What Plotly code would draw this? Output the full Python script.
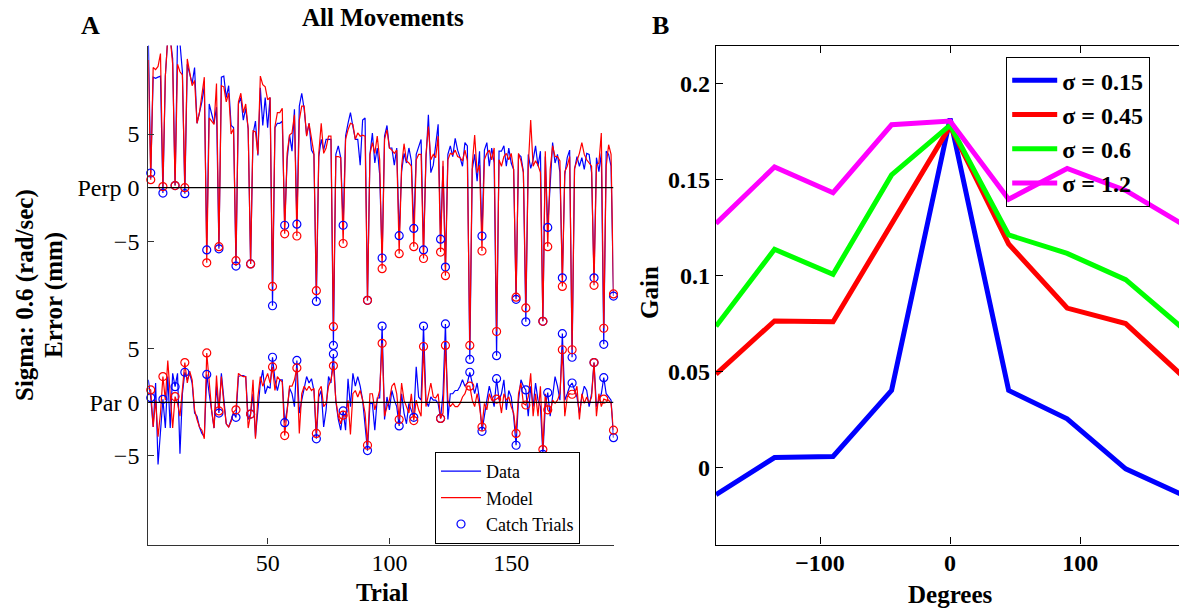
import plotly.graph_objects as go

# ---------------- Panel A data ----------------
trials = list(range(1, 193))
catch_trials = [2, 7, 12, 16, 25, 30, 37, 43, 52, 57, 62, 70, 77, 81, 91, 97,
                104, 110, 114, 121, 123, 133, 138, 144, 152, 156, 163, 165,
                171, 175, 184, 188, 192]
perp_offset = 20

perp_data = [
    14.0, 1.37, 10.3, 10.2, 10.3, 10.4, -0.5, 10.4, 14.0, 14.0, 12.0, 0.2,
    14.0, 13.5, 10.8, -0.56, 11.5, 10.5, 9.7, 11.2, 6.0, 7.0, 8.0, 9.5,
    -5.8, 7.8, 6.8, 6.0, 7.5, -5.7, 10.3, 10.4, 8.4, 9.5, 5.8, 5.6,
    -7.3, 7.8, 8.4, 6.3, 7.4, 5.5, -7.1, 5.0, 6.2, 3.0, 9.3, 5.8,
    8.4, 5.6, 8.4, -11.0, 5.6, 6.0, 6.0, 6.2, -3.5, 2.6, 4.9, 3.4,
    7.3, -3.4, 7.6, 8.8, 7.3, 4.9, 6.0, 3.5, 3.1, -10.6, 2.9, 4.5,
    3.5, 4.5, 4.5, 4.5, -14.7, 3.1, 3.9, 2.8, -3.5, 4.8, 6.0, 7.0,
    5.7, 4.5, 4.5, 2.1, 6.3, 6.5, -10.5, 3.1, 5.1, 2.3, 3.7, 1.2,
    -6.55, 4.8, 5.8, 3.7, 3.7, 2.1, 3.7, -4.47, 1.5, 3.2, 2.3, 3.7,
    2.5, -3.8, 3.1, 3.9, 4.5, -5.8, 2.6, 6.8, 1.4, 2.1, 4.2, 5.9,
    -4.8, 2.0, -7.4, 3.1, 3.9, 2.9, 4.6, 3.5, 2.8, 2.0, 4.2, 3.9,
    -16.0, 1.7, 3.1, 0.6, 3.4, -4.5, 3.5, 4.2, 2.0, 3.7, 2.3, -15.65,
    3.4, 3.4, 3.9, 2.0, 3.7, 2.3, 1.7, -10.4, 3.1, 2.9, 1.5, -12.5,
    3.1, 1.8, 2.6, 3.9, 2.0, 3.4, -12.45, 2.9, -3.7, 0.6, 4.2, 2.3,
    3.1, 1.4, -8.4, 1.2, 2.8, 3.5, -15.8, 1.7, 2.9, 2.0, 2.8, 1.7,
    3.2, 3.1, 1.4, -8.4, 2.8, 1.5, 3.2, -14.6, 3.4, 3.1, 2.0, -10.1,
]
perp_model = [
    11.9, 0.75, 11.2, 11.0, 11.3, 12.5, 0.1, 10.4, 14.0, 14.0, 11.5, 0.2,
    11.5, 10.8, 10.5, 0.0, 12.0, 10.9, 9.5, 10.0, 6.0, 7.0, 8.5, 10.3,
    -7.0, 6.5, 6.2, 5.9, 9.7, -5.5, 9.5, 9.4, 8.0, 8.8, 5.0, 5.5,
    -6.8, 8.0, 8.8, 7.0, 7.8, 5.5, -7.1, 5.3, 5.2, 3.1, 10.4, 9.6,
    9.4, 8.2, 8.4, -9.2, 5.7, 7.0, 7.0, 7.4, -4.3, 3.2, 4.9, 5.1,
    6.8, -4.5, 6.3, 7.6, 7.6, 4.8, 6.0, 4.5, 3.2, -9.6, 3.2, 6.0,
    3.2, 3.7, 4.8, 4.8, -12.95, 2.9, 2.9, 2.8, -5.2, 4.5, 5.4, 6.0,
    5.9, 4.5, 5.1, 4.8, 4.9, 4.8, -10.5, 3.1, 4.2, 3.2, 4.8, 2.6,
    -7.55, 4.5, 5.4, 3.7, 3.5, 3.2, 3.5, -6.15, 2.0, 4.1, 2.5, 2.3,
    2.0, -5.5, 2.6, 3.1, 3.1, -6.6, 3.1, 5.7, 2.6, 3.1, 2.8, 4.8,
    -6.0, 2.5, -8.2, 2.6, 3.2, 3.1, 3.5, 2.9, 2.8, 2.5, 3.5, 2.5,
    -14.7, 2.1, 4.9, 1.4, 2.1, -5.9, 2.6, 3.2, 3.5, 2.6, 3.7, -13.4,
    2.6, 2.0, 2.9, 3.2, 2.6, 3.2, 1.7, -10.2, 3.2, 2.5, 1.4, -11.2,
    2.0, 6.3, 2.0, 2.5, 2.1, 1.4, -12.45, 3.4, -5.5, 1.7, 3.9, 2.9,
    2.9, 2.5, -9.2, 1.5, 2.0, 2.9, -15.1, 1.8, 2.5, 3.2, 4.2, 3.1,
    2.6, 2.3, 2.0, -9.1, 2.1, 2.3, 5.1, -13.1, 2.0, 4.0, 3.1, -9.9,
]
par_data = [
    2.1, 0.43, -2.3, 1.8, -5.8, -2.3, 0.28, -2.4, 2.4, -2.4, 2.7, 1.46,
    2.7, -4.8, 0.8, 2.8, 2.1, 2.7, 1.8, -1.0, -1.3, -2.3, -2.9, -3.2,
    2.6, 0.8, -0.7, -2.4, 1.5, -1.0, 2.7, 0.2, -2.0, -2.3, -1.6, -1.0,
    -1.4, 2.4, 2.5, 2.5, 2.4, -1.6, -1.1, 0.8, -3.2, -1.0, 1.8, 3.0,
    0.8, 1.5, 1.3, 4.2, 2.1, 1.1, 2.1, 2.1, -1.9, -0.7, 1.3, 0.8,
    -0.4, 3.9, -1.0, 0.2, 1.5, 2.4, 1.8, 2.2, 1.1, -3.4, 0.5, 1.1,
    -2.3, -0.7, 2.4, 1.8, 4.5, 0.1, -1.6, -2.6, -0.8, -2.6, 2.2, -0.4,
    2.7, 1.5, 2.4, 1.5, 0.2, -2.0, -4.5, -0.1, -0.1, -2.6, 0.4, 0.4,
    7.1, -1.6, 0.5, -0.7, 1.1, 0.2, -0.4, -2.2, 0.8, -1.0, -2.0, -0.1,
    -0.7, -1.4, 3.3, 0.5, 0.2, 7.1, 0.2, -0.4, 0.5, 0.2, 0.2, -0.1,
    -1.5, 0.8, 7.3, -1.6, 0.8, 0.8, 1.1, 1.1, 1.5, 2.1, 1.5, 1.8,
    2.8, 1.8, 0.8, 1.8, 0.2, -2.7, -1.0, 0.2, 1.5, 0.5, -0.4, 2.2,
    0.2, 0.8, 2.1, -0.7, 1.1, 0.5, -1.3, -4.0, 0.2, 2.1, 1.5, 1.15,
    -1.3, 1.5, -0.4, 1.8, 0.2, -0.4, -4.85, -0.4, 0.9, -1.3, 0.8, 2.4,
    1.5, 0.2, 6.4, 0.2, 0.8, 1.5, 1.8, 1.1, 0.5, -1.0, 0.5, 1.5,
    1.1, -0.4, 0.8, 3.7, -0.4, 0.2, 0.8, 2.3, 0.8, 0.5, 0.2, -3.3,
]
par_model = [
    1.3, 1.15, -2.3, 0.2, -3.2, -1.0, 2.4, 0.2, 3.9, 0.8, -2.4, 0.53,
    -0.1, -1.3, 1.5, 3.7, 1.8, 2.9, 2.1, -0.7, -1.6, -2.3, -2.6, -3.4,
    4.6, 1.8, -0.7, -2.4, 2.5, -0.8, 2.4, -0.1, -2.0, -2.3, -1.8, -0.9,
    -0.7, 2.7, 2.5, 2.4, 2.4, -2.4, -1.1, 2.1, -3.4, 0.5, 2.4, 1.5,
    2.1, 2.7, 1.8, 3.3, 1.1, 2.4, 2.1, 1.9, -3.1, -0.4, 1.5, 1.5,
    2.1, 3.2, -2.9, 0.8, 1.5, 1.1, 1.5, 1.1, 1.3, -2.9, 1.1, 1.5,
    -0.4, -0.1, 1.5, 2.1, 3.4, 0.2, -1.3, -2.0, -1.2, -1.3, 0.2, -3.0,
    0.8, 1.1, 0.5, 1.1, 0.2, -1.0, -4.0, 0.8, 0.8, -0.7, 0.2, 1.1,
    5.5, -1.3, -0.4, 0.2, 1.5, 1.8, 0.8, -1.6, 1.8, 0.2, -0.4, -1.0,
    0.8, -1.7, 0.2, -0.7, -1.3, 5.2, -0.4, 0.8, 1.8, 0.5, 0.4, 0.8,
    -1.5, -1.0, 5.3, 0.2, -0.4, -0.1, -0.4, -0.4, -0.1, 0.5, 0.8, 1.5,
    1.5, 0.2, -0.4, 0.8, -0.4, -2.3, -0.1, -0.7, 0.8, 0.2, 0.2, 0.3,
    0.5, -1.0, 0.8, 0.2, 0.5, -0.4, -1.0, -2.9, 0.8, 1.8, -0.1, -0.25,
    0.5, 2.7, -1.3, 0.8, -1.3, 1.5, -4.4, 0.8, -0.7, -1.0, 0.2, -0.1,
    0.2, 0.8, 4.9, -1.3, 0.5, 0.8, 0.75, 0.8, 1.5, -1.6, 0.8, -0.1,
    0.5, -0.1, 0.5, 3.7, -1.3, 0.8, -0.4, 0.3, 0.2, 0.2, -0.1, -2.6,
]

ytick_vals_a = [-5, 0, 5, 15, 20, 25]
ytick_text_a = ["\u22125", "Par 0", "5", "\u22125", "Perp 0", "5"]
xtick_vals_a = [50, 100, 150]

# ---------------- Panel B data ----------------
degrees = [-180, -135, -90, -45, 0, 45, 90, 135, 180]
sigma_labels = ["\u03c3 = 0.15", "\u03c3 = 0.45", "\u03c3 = 0.6", "\u03c3 = 1.2"]
gain_s015 = [-0.014, 0.0053, 0.0059, 0.0403, 0.182, 0.0403, 0.0255, -0.0006, -0.0145]
gain_s045 = [0.0488, 0.0765, 0.0761, 0.1273, 0.178, 0.1166, 0.0832, 0.0751, 0.047]
gain_s06 = [0.0737, 0.1138, 0.1008, 0.1526, 0.1785, 0.1213, 0.1117, 0.098, 0.072]
gain_s12 = [0.1273, 0.1567, 0.1433, 0.1787, 0.1806, 0.1399, 0.1559, 0.1445, 0.1264]
sigma_colors = ["#0000ff", "#ff0000", "#00ff00", "#ff00ff"]

# ---------------- build ----------------
W, H = 1179, 609
SERIF = "Liberation Serif, Times New Roman, serif"


def px_x(p):
    return p / W


def px_y(p):
    return 1 - p / H


perp_data_y = [v + perp_offset for v in perp_data]
perp_model_y = [v + perp_offset for v in perp_model]
idx = [trials.index(t) for t in catch_trials]

fig = go.Figure()

fig.add_trace(go.Scatter(
    x=trials + [None] + trials, y=perp_data_y + [None] + par_data,
    mode="lines", line=dict(color="#0000ff", width=1.2),
    name="Data", xaxis="x", yaxis="y", legend="legend"))
fig.add_trace(go.Scatter(
    x=trials + [None] + trials, y=perp_model_y + [None] + par_model,
    mode="lines", line=dict(color="#ff0000", width=1.2),
    name="Model", xaxis="x", yaxis="y", legend="legend"))
fig.add_trace(go.Scatter(
    x=catch_trials + catch_trials,
    y=[perp_data_y[i] for i in idx] + [par_data[i] for i in idx],
    mode="markers", cliponaxis=False,
    marker=dict(symbol="circle-open", size=8, color="#0000ff", line=dict(width=1.2)),
    name="Catch Trials", xaxis="x", yaxis="y", legend="legend"))
fig.add_trace(go.Scatter(
    x=catch_trials + catch_trials,
    y=[perp_model_y[i] for i in idx] + [par_model[i] for i in idx],
    mode="markers", cliponaxis=False,
    marker=dict(symbol="circle-open", size=8, color="#ff0000", line=dict(width=1.2)),
    name="Catch (model)", showlegend=False, xaxis="x", yaxis="y"))

for lab, vals, col in zip(sigma_labels, [gain_s015, gain_s045, gain_s06, gain_s12], sigma_colors):
    fig.add_trace(go.Scatter(
        x=degrees, y=vals, mode="lines", line=dict(color=col, width=5),
        name=lab, xaxis="x2", yaxis="y2", legend="legend2", legendgroup=lab))

# zero reference lines in panel A
for y0 in [0, perp_offset]:
    fig.add_shape(type="line", xref="x", yref="y", x0=trials[0], x1=trials[-1],
                  y0=y0, y1=y0, line=dict(color="black", width=1.2), layer="above")

y_dom = [px_y(544.5), px_y(45.5)]
axis_a = dict(showgrid=False, zeroline=False, showline=True, linecolor="#333333",
              linewidth=1.2, ticks="inside", ticklen=6, tickwidth=1.2, tickcolor="#333333",
              tickfont=dict(family=SERIF, size=24, color="black"))
axis_b = dict(showgrid=False, zeroline=False, showline=True, linecolor="black",
              linewidth=1.2, ticks="inside", ticklen=7, tickwidth=1.2, tickcolor="black",
              tickfont=dict(family=SERIF, size=24, color="black", weight="bold"))

fig.update_layout(
    width=W, height=H, margin=dict(l=0, r=0, t=0, b=0),
    paper_bgcolor="white", plot_bgcolor="white",
    xaxis=dict(domain=[px_x(148.3), px_x(613.5)], range=[1, 192], anchor="y",
               tickvals=xtick_vals_a, ticklabelstandoff=-3, **axis_a),
    yaxis=dict(domain=y_dom, range=[-13.25, 33.25], anchor="x",
               tickvals=ytick_vals_a, ticktext=ytick_text_a, ticklabelstandoff=3, **axis_a),
    xaxis2=dict(domain=[px_x(716), 1.0], range=[-180, 176], anchor="y2",
                tick0=0, dtick=100, mirror="ticks", ticklabelstandoff=-3, **axis_b),
    yaxis2=dict(domain=y_dom, range=[-0.04, 0.22], anchor="x2",
                tick0=0, dtick=0.05, **axis_b),
    legend=dict(x=px_x(435), y=px_y(452), xanchor="left", yanchor="top",
                bgcolor="white", bordercolor="black", borderwidth=1,
                itemwidth=40, tracegroupgap=0,
                font=dict(family=SERIF, size=18, color="black")),
    legend2=dict(x=px_x(1006), y=px_y(57), xanchor="left", yanchor="top",
                 bgcolor="rgba(255,255,255,0)", bordercolor="black", borderwidth=1.2,
                 tracegroupgap=0, itemwidth=45,
                 font=dict(family=SERIF, size=24, color="black", weight="bold")),
    showlegend=True,
)

bold = dict(family=SERIF, size=25, color="black", weight="bold")
annots = [
    dict(text="A", x=px_x(90), y=px_y(26), font=dict(bold, size=26)),
    dict(text="B", x=px_x(660), y=px_y(26), font=dict(bold, size=26)),
    dict(text="All Movements", x=px_x(383), y=px_y(18), font=bold),
    dict(text="Trial", x=px_x(382), y=px_y(592), font=bold),
    dict(text="Degrees", x=px_x(950), y=px_y(594), font=bold),
    dict(text="Gain", x=px_x(649), y=px_y(293), font=bold, textangle=-90),
    dict(text="Sigma: 0.6 (rad/sec)", x=px_x(25), y=px_y(295), font=bold, textangle=-90),
    dict(text="Error (mm)", x=px_x(54), y=px_y(295), font=bold, textangle=-90),
]
for a in annots:
    fig.add_annotation(xref="paper", yref="paper", showarrow=False,
                       xanchor="center", yanchor="middle", **a)

fig.write_html("out.html",
               config={"displayModeBar": False},
               post_script="document.body.style.margin='0px';"
                           "document.body.style.overflow='hidden';")
